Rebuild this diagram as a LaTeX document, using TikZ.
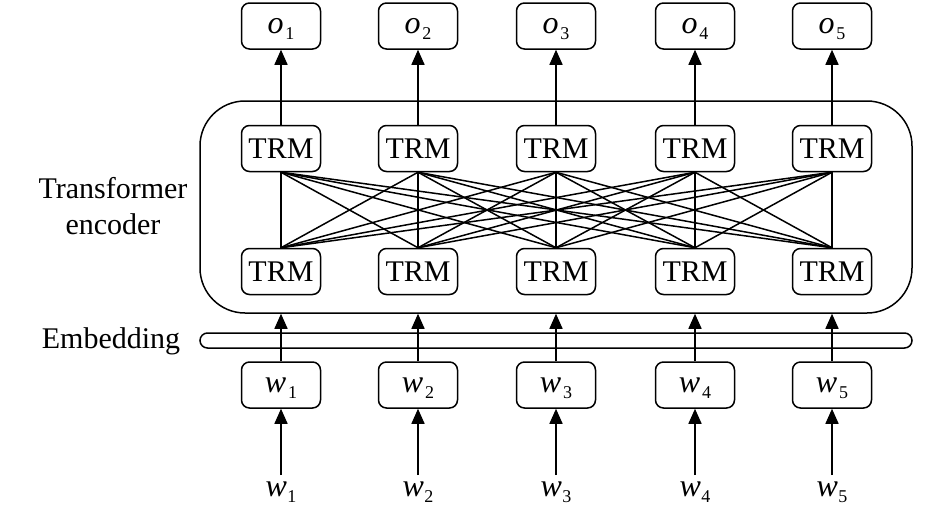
\documentclass[tikz,border=0pt]{standalone}
\usepackage{fontspec}
\setmainfont{Liberation Serif}
\usetikzlibrary{arrows.meta}
\newcommand{\symb}[2]{{\fontsize{32}{32}\selectfont\itshape #1}\kern0.06em\raisebox{-6pt}[0pt][0pt]{\fontsize{18}{18}\selectfont #2}}
\tikzset{
  box/.style={draw, line width=1.5pt, rounded corners=8pt, minimum width=79pt, minimum height=46pt, inner sep=0pt, font=\fontsize{30}{30}\selectfont},
  arr/.style={line width=1.5pt, -{Triangle[length=15pt,width=13pt]}},
  link/.style={line width=1.5pt},
  lab/.style={font=\fontsize{30}{36}\selectfont, align=center, inner sep=0pt}
}
\begin{document}
\begin{tikzpicture}[x=1pt,y=-1pt]
\useasboundingbox (0,0) rectangle (945,515);
\node[draw, line width=1.5pt, rounded corners=45pt, minimum width=712pt, minimum height=212pt, inner sep=0pt] (enc) at (556,207) {};
\node[draw, line width=1.5pt, rounded corners=7.5pt, minimum width=712pt, minimum height=15pt, inner sep=0pt] (emb) at (556,340.5) {};
\node[lab] (tlab) at (113,206) {Transformer\\encoder};
\node[lab] (elab) at (111,341) {Embedding};
\foreach \i/\cx in {1/281,2/418,3/556,4/695,5/832}{
  \node[box] (o\i) at (\cx,26) {\symb{o}{\i}};
  \node[box] (t\i) at (\cx,148.5) {TRM};
  \node[box] (b\i) at (\cx,271.5) {TRM};
  \node[box] (w\i) at (\cx,385) {\symb{w}{\i}};
  \node[inner sep=0pt] (l\i) at (\cx,489) {\symb{w}{\i}};
  \draw[arr] (t\i.north) -- (o\i.south);
  \draw[arr] (w\i.north) -- (w\i.north |- enc.south);
  \draw[arr] (\cx,475) coordinate (s\i) -- (w\i.south);
}
\foreach \i in {1,...,5}{
  \foreach \j in {1,...,5}{
    \draw[link] (t\i.south) -- (b\j.north);
  }
}
\end{tikzpicture}
\end{document}
